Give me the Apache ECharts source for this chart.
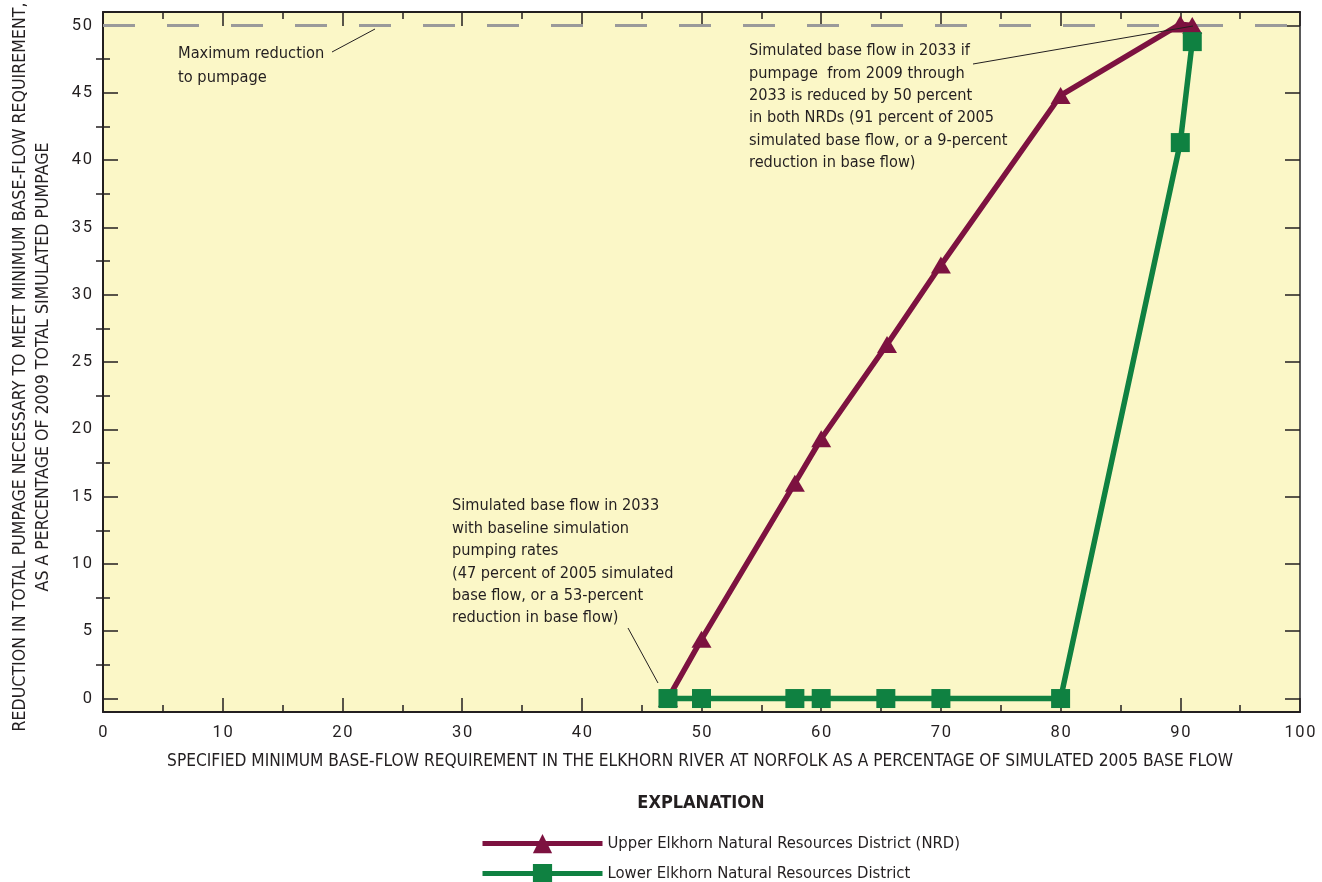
<!DOCTYPE html>
<html>
<head>
<meta charset="utf-8">
<script src="https://cdn.jsdelivr.net/npm/echarts@6/dist/echarts.min.js"></script>
<style>
  html, body { margin: 0; padding: 0; background: #fff; }
  #chart { width: 1322px; height: 882px; }
</style>
</head>
<body>
<div id="chart"></div>
<script>
// percent of simulated 2005 base flow
const upperX = [47.2, 50, 57.8, 60, 65.5, 70, 80, 90, 91];
// reduction in pumpage, percent of 2009 total
const upperY = [0, 4.4, 16, 19.3, 26.3, 32.2, 44.8, 50.1, 50];
const lowerX = [47.2, 50, 57.8, 60, 65.4, 70, 80, 90, 91];
const lowerY = [0, 0, 0, 0, 0, 0, 0, 41.3, 48.8];
const yMajorTicks = [0, 5, 10, 15, 20, 25, 30, 35, 40, 45, 50];
const yMinorTicks = [2.5, 7.5, 12.5, 17.5, 22.5, 27.5, 32.5, 37.5, 42.5, 47.5];
const maxReduction = 50;
const upperName = 'Upper Elkhorn Natural Resources District (NRD)';
const lowerName = 'Lower Elkhorn Natural Resources District';

const FONT = '"Liberation Sans Narrow", "DejaVu Sans Condensed", Roboto, sans-serif';
const INK = '#231f20';
const MAROON = '#7d1240';
const GREEN = '#0f8141';

const chart = echarts.init(document.getElementById('chart'));

// spread digits a little, like the printed figure
const spaced = (v) => String(v).split('').join('\u200a');

const xBase = {
  type: 'value',
  min: 0,
  max: 100,
  interval: 10,
  splitLine: { show: false },
  axisLine: { show: true, onZero: false, lineStyle: { color: INK, width: 2 } },
  axisTick: { show: true, inside: true, length: 14, lineStyle: { color: INK, width: 1.5 } },
  minorTick: { show: true, splitNumber: 2, length: 7, lineStyle: { color: INK, width: 1.5 } },
};

const yBase = {
  type: 'value',
  min: -1,
  max: 51,
  splitLine: { show: false },
  axisLine: { show: false },
};

const pairs = (xs, ys) => xs.map((x, i) => [x, ys[i]]);

const legendBase = {
  orient: 'vertical',
  left: 480,
  padding: 0,
  itemWidth: 120,
  itemHeight: 24,
  textStyle: { fontFamily: FONT, fontSize: 16.5, color: INK, padding: [0, 0, 0, 0] },
  lineStyle: { width: 5 },
};

const option = {
  animation: false,
  grid: {
    left: 103, top: 12, right: 22, bottom: 170,
    show: true, backgroundColor: '#fbf7c7', borderWidth: 0,
  },
  xAxis: [
    Object.assign({}, xBase, {
      position: 'bottom',
      axisLabel: { color: INK, fontFamily: 'Roboto', fontSize: 16.5, margin: 12, formatter: spaced },
    }),
    Object.assign({}, xBase, { position: 'top', axisLabel: { show: false } }),
  ],
  yAxis: [
    Object.assign({}, yBase, {
      position: 'left',
      axisLine: { show: true, onZero: false, lineStyle: { color: INK, width: 2 } },
      axisLabel: { customValues: yMajorTicks, color: INK, fontFamily: 'Roboto', fontSize: 16.5, margin: 11, formatter: spaced },
      axisTick: { customValues: yMajorTicks, inside: true, length: 15, lineStyle: { color: INK, width: 1.5 } },
    }),
    Object.assign({}, yBase, {
      position: 'left',
      axisLabel: { show: false },
      axisTick: { show: true, customValues: yMinorTicks, inside: true, length: 7, lineStyle: { color: INK, width: 1.5 } },
    }),
    Object.assign({}, yBase, {
      position: 'right',
      axisLine: { show: true, onZero: false, lineStyle: { color: '#5a5a5a', width: 2 } },
      axisLabel: { show: false },
      axisTick: { show: true, customValues: yMajorTicks, inside: true, length: 15, lineStyle: { color: INK, width: 1.5 } },
    }),
    Object.assign({}, yBase, {
      position: 'right',
      axisLabel: { show: false },
      axisTick: { show: true, customValues: yMinorTicks, inside: true, length: 7, lineStyle: { color: INK, width: 1.5 } },
    }),
  ],
  legend: [
    Object.assign({}, legendBase, { top: 834, data: [upperName] }),
    Object.assign({}, legendBase, { top: 864, data: [lowerName] }),
  ],
  series: [
    {
      name: upperName,
      type: 'line',
      data: pairs(upperX, upperY),
      symbol: 'triangle',
      symbolSize: [20, 17],
      showAllSymbol: true,
      lineStyle: { color: MAROON, width: 5.5 },
      itemStyle: { color: MAROON },
      z: 3,
      markLine: {
        silent: true,
        symbol: 'none',
        label: { show: false },
        lineStyle: { color: '#9a9a9a', width: 3, type: [32, 32] },
        data: [{ yAxis: maxReduction }],
        z: 1,
      },
    },
    {
      name: lowerName,
      type: 'line',
      data: pairs(lowerX, lowerY),
      symbol: 'rect',
      symbolSize: 19,
      showAllSymbol: true,
      lineStyle: { color: GREEN, width: 5.5 },
      itemStyle: { color: GREEN },
      z: 4,
    },
  ],
  graphic: [
    {
      type: 'text', x: 701, y: 803,
      style: { text: 'EXPLANATION', font: 'bold 18px ' + FONT, fill: INK, align: 'center', verticalAlign: 'middle' },
    },
    {
      type: 'text', x: 700, y: 762,
      style: {
        text: 'SPECIFIED MINIMUM BASE-FLOW REQUIREMENT IN THE ELKHORN RIVER AT NORFOLK AS A PERCENTAGE OF SIMULATED 2005 BASE FLOW',
        font: '17.2px ' + FONT, fill: INK, align: 'center', verticalAlign: 'middle',
      },
    },
    {
      type: 'text', x: 32, y: 367, rotation: Math.PI / 2,
      style: {
        text: 'REDUCTION IN TOTAL PUMPAGE NECESSARY TO MEET MINIMUM BASE-FLOW REQUIREMENT,\nAS A PERCENTAGE OF 2009 TOTAL SIMULATED PUMPAGE',
        font: '17.6px ' + FONT, fill: INK, align: 'center', verticalAlign: 'middle', lineHeight: 23,
      },
    },
    {
      type: 'text', x: 178, y: 42,
      style: { text: 'Maximum reduction\nto pumpage', font: '16.3px ' + FONT, fill: INK, lineHeight: 24 },
    },
    {
      type: 'text', x: 749, y: 40,
      style: {
        text: 'Simulated base flow in 2033 if\npumpage  from 2009 through\n2033 is reduced by 50 percent\nin both NRDs (91 percent of 2005\nsimulated base flow, or a 9-percent\nreduction in base flow)',
        font: '16.2px ' + FONT, fill: INK, lineHeight: 22.3,
      },
    },
    {
      type: 'text', x: 452, y: 495,
      style: {
        text: 'Simulated base flow in 2033\nwith baseline simulation\npumping rates\n(47 percent of 2005 simulated\nbase flow, or a 53-percent\nreduction in base flow)',
        font: '16.2px ' + FONT, fill: INK, lineHeight: 22.4,
      },
    },
    { type: 'line', shape: { x1: 332, y1: 52, x2: 375, y2: 29 }, style: { stroke: INK, lineWidth: 1 }, z: 10 },
    { type: 'line', shape: { x1: 973, y1: 64, x2: 1193, y2: 26 }, style: { stroke: INK, lineWidth: 1 }, z: 10 },
    { type: 'line', shape: { x1: 628, y1: 628, x2: 658, y2: 683 }, style: { stroke: INK, lineWidth: 1 }, z: 10 },
  ],
};

chart.setOption(option);
window.addEventListener('resize', () => chart.resize());
</script>
</body>
</html>
